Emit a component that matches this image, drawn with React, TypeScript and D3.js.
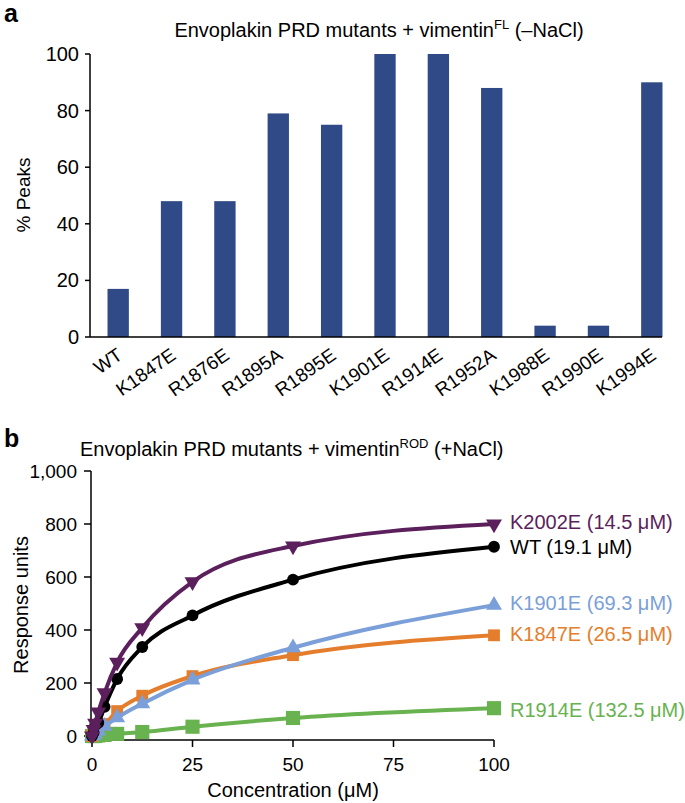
import React from 'react';
import * as d3 from 'd3';

// ---------- Panel a data ----------
const mutants = ['WT', 'K1847E', 'R1876E', 'R1895A', 'R1895E', 'K1901E', 'R1914E', 'R1952A', 'K1988E', 'R1990E', 'K1994E'];
const peaks = [17, 48, 48, 79, 75, 100, 100, 88, 4, 4, 90];
const yTicksA = [0, 20, 40, 60, 80, 100];

// ---------- Panel b data ----------
const conc = [0, 0.39, 0.78, 1.56, 3.125, 6.25, 12.5, 25, 50, 100];
const k2002e = [0, 24, 48, 90, 163, 278, 408, 582, 717, 800];
const wt = [0, 12, 40, 50, 110, 215, 336, 455, 590, 714];
const k1901e = [0, 4, 9, 19, 37, 69, 122, 212, 333, 494];
const k1847e = [0, 8, 15, 28, 45, 94, 152, 226, 305, 380];
const r1914e = [0, 0, 0, 2, 4, 8, 15, 35, 68, 105];
const seriesNames = ['K2002E (14.5 μM)', 'WT (19.1 μM)', 'K1901E (69.3 μM)', 'K1847E (26.5 μM)', 'R1914E (132.5 μM)'];
const seriesColors = ['#5b1f5c', '#000000', '#7b9fd8', '#e57e2c', '#68b24f'];
const seriesMarkers = ['triangleDown', 'circle', 'triangle', 'square', 'squareBig'];
const seriesValues = [k2002e, wt, k1901e, k1847e, r1914e];
const yTicksB = [0, 200, 400, 600, 800, 1000];
const xTicksB = [0, 25, 50, 75, 100];

const FONT = "'Liberation Sans', Arial, Helvetica, sans-serif";

export default function App() {
  // Panel a scales
  const xA = d3.scaleBand<string>().domain(mutants).range([91.5, 678.5]).paddingInner(0.6).paddingOuter(0.3);
  const yA = d3.scaleLinear().domain([0, 100]).range([337, 54]);

  // Panel b scales
  const xB = d3.scaleLinear().domain([0, 100]).range([92, 494]);
  const yB = d3.scaleLinear().domain([0, 1000]).range([736, 471]);
  const fmt = d3.format(',');

  const line = d3.line<number>()
    .x((_, i) => xB(conc[i]))
    .curve(d3.curveMonotoneX);

  const markerPath = (m: string) => {
    if (m === 'circle') return d3.symbol(d3.symbolCircle, 110)();
    if (m === 'square') return d3.symbol(d3.symbolSquare, 140)();
    if (m === 'squareBig') return d3.symbol(d3.symbolSquare, 200)();
    return d3.symbol(d3.symbolTriangle, 110)();
  };

  const labelY = [522, 547, 603, 634, 710];

  return (
    <svg width={685} height={803} style={{ position: 'absolute', left: 0, top: 0, background: '#fff' }} fontFamily={FONT}>
      {/* ===== Panel a ===== */}
      <text x={4} y={22} fontSize={25} fontWeight="bold">a</text>
      <text x={379} y={37} fontSize={20} textAnchor="middle">
        Envoplakin PRD mutants + vimentin<tspan dy={-8} fontSize={13}>FL</tspan><tspan dy={8}> (–NaCl)</tspan>
      </text>
      {peaks.map((v, i) => (
        <rect key={mutants[i]} x={xA(mutants[i])} y={yA(v)} width={xA.bandwidth()} height={yA(0) - yA(v)} fill="#2f4a86" />
      ))}
      <line x1={90} x2={90} y1={yA(100)} y2={yA(0)} stroke="#000" strokeWidth={1.5} />
      <line x1={90} x2={662} y1={yA(0)} y2={yA(0)} stroke="#000" strokeWidth={1.5} />
      {yTicksA.map(t => (
        <g key={t}>
          <line x1={85} x2={90} y1={yA(t)} y2={yA(t)} stroke="#000" strokeWidth={1.5} />
          <text x={79} y={yA(t)} dy="0.35em" fontSize={20} textAnchor="end">{t}</text>
        </g>
      ))}
      <text transform={`translate(30,195) rotate(-90)`} fontSize={19} textAnchor="middle">% Peaks</text>
      {mutants.map(m => {
        const cx = (xA(m) as number) + xA.bandwidth() / 2;
        return (
          <text key={m} transform={`translate(${cx - 2},${347}) rotate(-35)`} fontSize={19} textAnchor="end" dy="0.7em">{m}</text>
        );
      })}

      {/* ===== Panel b ===== */}
      <text x={4} y={447} fontSize={25} fontWeight="bold">b</text>
      <text x={80} y={456} fontSize={20}>
        Envoplakin PRD mutants + vimentin<tspan dy={-8} fontSize={13}>ROD</tspan><tspan dy={8}> (+NaCl)</tspan>
      </text>
      <line x1={91} x2={91} y1={yB(1000)} y2={740} stroke="#000" strokeWidth={1.5} />
      {yTicksB.map(t => (
        <g key={t}>
          <line x1={84} x2={91} y1={yB(t)} y2={yB(t)} stroke="#000" strokeWidth={1.5} />
          <text x={77} y={yB(t)} dy="0.35em" fontSize={19} textAnchor="end">{fmt(t)}</text>
        </g>
      ))}
      <line x1={91} x2={xB(100)} y1={740} y2={740} stroke="#000" strokeWidth={1.5} />
      {xTicksB.map(t => (
        <g key={t}>
          <line x1={xB(t)} x2={xB(t)} y1={740} y2={747} stroke="#000" strokeWidth={1.5} />
          <text x={xB(t)} y={771} fontSize={19} textAnchor="middle">{t}</text>
        </g>
      ))}
      <text x={293} y={797} fontSize={20} textAnchor="middle">Concentration (μM)</text>
      <text transform={`translate(28,605) rotate(-90)`} fontSize={20} textAnchor="middle">Response units</text>

      {[4, 3, 2, 1, 0].map(si => {
        const vals = seriesValues[si];
        const color = seriesColors[si];
        const m = seriesMarkers[si];
        const l = line.y(v => yB(v));
        return (
          <g key={si}>
            <path d={l(vals) as string} fill="none" stroke={color} strokeWidth={4} />
            {vals.map((v, i) => (
              <path key={i} d={markerPath(m) as string}
                transform={`translate(${xB(conc[i])},${yB(v)})${m === 'triangleDown' ? ' rotate(180)' : ''}`}
                fill={color} />
            ))}
          </g>
        );
      })}
      {seriesNames.map((n, i) => (
        <text key={n} x={510} y={labelY[i]} dy="0.35em" fontSize={20} fill={seriesColors[i]}>{n}</text>
      ))}
    </svg>
  );
}
